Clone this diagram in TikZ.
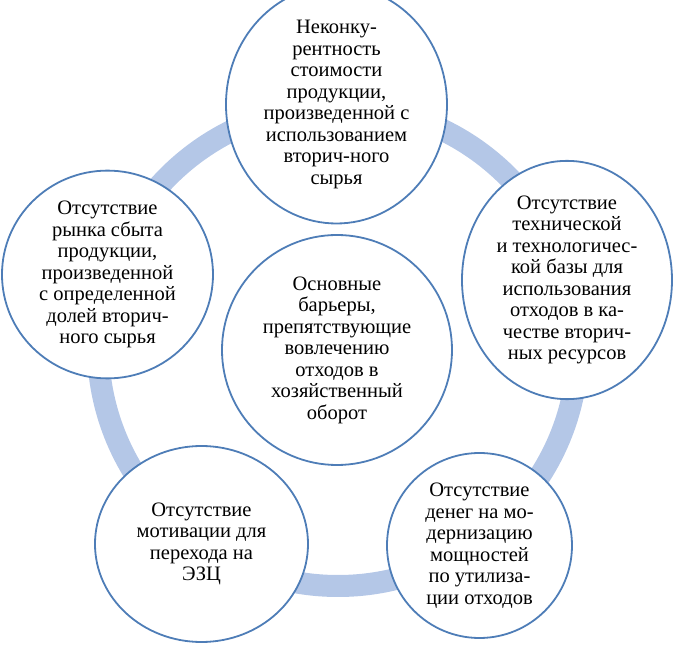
\documentclass[tikz,border=0pt]{standalone}
\usepackage{fontspec}
\setmainfont{Liberation Serif}
\usepackage{tikz}
\usepackage{xcolor}
\usetikzlibrary{positioning,shapes.geometric}
\definecolor{ringcolor}{HTML}{B4C7E7}
\definecolor{edgecolor}{HTML}{4E7DB7}

\begin{document}
\begin{tikzpicture}[
  x=1pt, y=1pt,
  barrier/.style 2 args={
    ellipse, draw=edgecolor, fill=white, line width=1.8pt,
    minimum width=#1, minimum height=#2,
    inner sep=0pt, align=center,
    font=\fontsize{20.5}{21.5}\selectfont, text=black,
  },
  ring/.style={draw=ringcolor, line width=22pt},
]
\useasboundingbox (-337,-295) rectangle (336,350);

% --- ring behind the circles -----------------------------------------
\coordinate (ringc) at (1,4);
\draw[ring] (ringc) circle[radius=240];

% --- centre ---------------------------------------------------------
\node[barrier={230}{230}] (core) at (0,0) {%
  Основные\\барьеры,\\препятствующие\\вовлечению\\отходов в\\хозяйственный\\оборот};

% --- outer barriers -------------------------------------------------
\node[barrier={221}{221}] (costs) at (-0.5,245.5) {%
  Неконку-\\рентность\\стоимости\\продукции,\\произведенной с\\использованием\\вторич-ного\\сырья};

\node[barrier={210}{186}] (techbase) at (230,70) {%
  Отсутствие\\технической\\и технологичес-\\кой базы для\\использования\\отходов в ка-\\честве вторич-\\ных ресурсов};

\node[barrier={185}{185}] (money) at (142.5,-195.5) {%
  Отсутствие\\денег на мо-\\дернизацию\\мощностей\\по утилиза-\\ции отходов};

\node[barrier={213}{196}] (motive) at (-135.5,-194) {%
  Отсутствие\\мотивации для\\перехода на\\ЭЗЦ};

\node[barrier={211}{195}] (market) at (-229.5,75.5) {%
  Отсутствие\\рынка сбыта\\продукции,\\произведенной\\с определенной\\долей вторич-\\ного сырья};

\end{tikzpicture}
\end{document}
